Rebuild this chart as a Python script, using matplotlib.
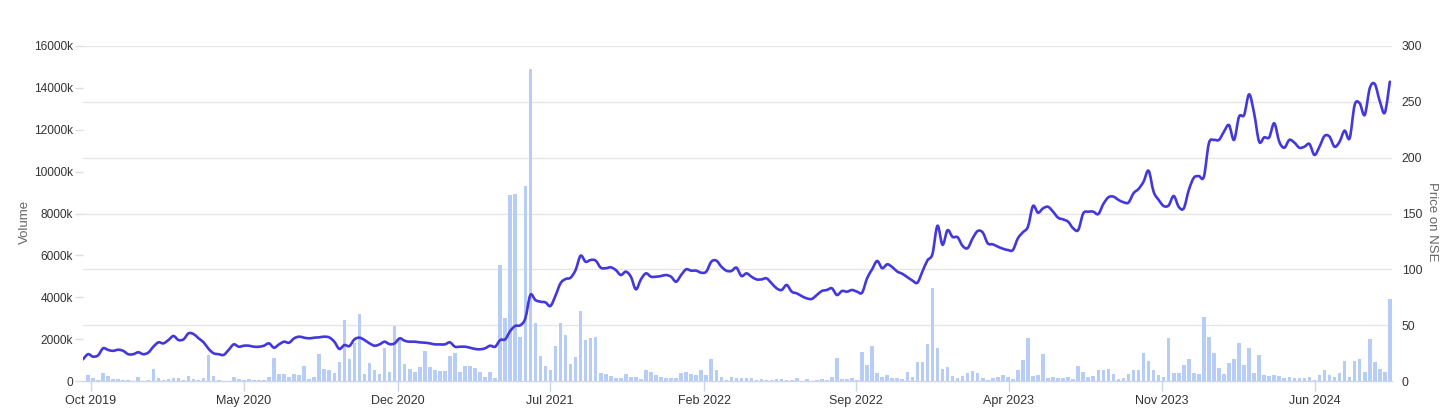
import matplotlib
matplotlib.use("Agg")
import matplotlib.pyplot as plt
from matplotlib.path import Path
from matplotlib.patches import PathPatch
from matplotlib.ticker import FuncFormatter, MultipleLocator
import matplotlib.dates as mdates
import numpy as np
import pandas as pd

# ---------------- data ----------------
volume_start = "2019-09-27"   # weekly bars
volume_k = [
    290, 160, 50, 370, 240, 100, 100, 50, 50, 20,
    190, 10, 50, 570, 160, 60, 100, 130, 130, 50,
    240, 80, 60, 140, 1220, 240, 30, 5, 5, 190,
    100, 50, 110, 50, 50, 60, 190, 1080, 320, 320,
    190, 350, 290, 730, 80, 210, 1300, 570, 510, 380,
    910, 2900, 1050, 1800, 3200, 350, 860, 510, 320, 1580,
    450, 2650, 2000, 800, 570, 430, 690, 1450, 690, 510,
    480, 480, 1180, 1340, 450, 730, 730, 620, 410, 190,
    410, 130, 5550,
    3020, 8870, 8950, 2090, 9300, 14920, 2790, 1190, 730, 520,
    1670, 2780, 2210, 810, 1130, 3340, 1960, 2030, 2090, 400,
    320, 220, 160, 140, 330, 190, 190, 110, 520, 410,
    270, 190, 160, 160, 160, 370, 430, 330, 270, 510,
    300, 1050, 510, 210, 50, 170, 140, 140, 140, 130,
    60, 100, 50, 50, 80, 80, 50, 50, 160, 10,
    80, 10, 50, 80, 50, 170, 1080, 100, 100, 140,
    50, 1370, 760, 1680, 400, 190, 290, 140, 140, 100,
    450, 190, 890, 890, 1780, 4450, 1560, 570, 670, 240,
    160, 240, 370, 480, 370,
    160, 50, 130, 210, 290, 190, 100, 510, 1000, 2040,
    240, 290, 1270, 130, 170, 140, 140, 190, 110, 730,
    450, 170, 250, 510, 510, 560, 350, 100, 140, 320,
    520, 520, 1340, 950, 520, 290, 190, 2040, 370, 370,
    750, 1070, 370, 330, 3070, 2090, 1350, 600, 330, 840,
    1050, 1800, 760, 1560, 380, 1240, 290, 220, 300, 240,
    140, 210, 140, 160, 160, 210, 60, 290, 510, 290,
    190, 400, 970, 190, 950, 1040, 430, 2000, 890, 560,
    430, 3900,
]

price_start = "2019-09-20"    # weekly closing price (NSE)
price = [
    19.4, 24, 21.8, 23, 29.3, 27.8, 27, 28, 27, 24,
    24, 25.7, 24, 25.5, 30.7, 34.6, 33.7, 36.7, 40.3, 36.7,
    37.3, 42.7, 42, 38.2, 34.6, 28.7, 24.8, 24, 23.4, 28,
    32.8, 30.7, 31.6, 31.6, 30.7, 30.7, 31.6, 33.7, 29.8, 32.8,
    35.2, 34.3, 38.2, 39.7, 38.8, 38.2, 38.8, 39.1, 39.7, 39,
    35.2, 28.7, 32.2, 31.3, 37.3, 38.8, 36.7, 33.7, 31.6, 32.8,
    35.2, 33, 33.7, 38.2, 36, 35.2, 35.2, 34.6, 34.3, 33.7,
    32.8, 32.8, 32.8, 34.6, 30.7, 30.7, 30.7, 29.8, 28.7, 28.4,
    29.3, 31.6, 30.7, 36.7,
    37.3, 44.8, 49.3, 49.9, 56.1, 77, 72.5, 71, 70.4, 67.2,
    76.4, 87.5, 91.3, 92.5, 99.4, 112.2, 106.8, 108.4, 107.8, 101.5,
    101, 101.8, 99.4, 94.9, 97.9, 93.4, 82.1, 91, 96.4, 93.4,
    93.4, 94, 94.9, 93.4, 88.9, 94.9, 100, 98.8, 98.8, 97,
    97.9, 106.8, 107.8, 102.4, 98.8, 98.5, 101.5, 94, 96.4, 93.4,
    91, 91, 91.9, 87.5, 83, 81.5, 86, 80, 78.5, 76,
    74, 73.5, 77, 80.6, 81.5, 83, 77, 80.6, 80, 81.5,
    80, 79.1, 92, 100, 107.5, 101, 104.5, 102, 98, 96,
    93, 90, 88, 98, 108, 113.7, 139, 122, 135, 129,
    128.7, 121, 119, 127.8, 134.3, 133, 123.3, 122.4, 120.3, 118.5,
    117.3, 117.3, 127.8, 133.2, 138.2, 156.7, 150.7, 154.6, 156, 151.6,
    146.2, 144.7, 142.6, 136.7, 135.2, 150.1, 151.6, 151.6, 149.5, 158.5,
    164.5, 165.1, 162.2, 160.1, 159.8, 168.1, 172, 178.5, 188.3, 169.5,
    162.2, 156.7, 157.3, 165.7, 156, 154.6, 171, 182, 183.5, 182.9,
    212.9, 215.9, 215.9, 223.3, 229.2, 215.9, 236.7, 238.2, 256.7, 239.7,
    214.3, 218.2, 218.2, 230.8, 214.3, 208.9, 215.9, 213.5, 208.9, 209.8,
    212.3, 202.4, 209.8, 219.4, 218.8, 209.8, 214.3, 224.2, 217.3, 247.2,
    248.7, 238.2, 262.1, 266, 250.6, 240.3, 268,
]

x_tick_labels = ["Oct 2019", "May 2020", "Dec 2020", "Jul 2021", "Feb 2022",
                 "Sep 2022", "Apr 2023", "Nov 2023", "Jun 2024"]

volume_axis_max_k = 16000
price_axis_max = 300

# ---------------- styling ----------------
BAR_COLOR = "#b7cdf6"
LINE_COLOR = "#4338dc"
GRID_COLOR = "#e6e6e6"
TEXT_COLOR = "#333333"
LABEL_COLOR = "#666666"

plt.rcParams["font.family"] = ["Liberation Sans", "DejaVu Sans"]

vol_dates = pd.date_range(volume_start, periods=len(volume_k), freq="7D")
price_dates = pd.date_range(price_start, periods=len(price), freq="7D")
volume = [v * 1000 for v in volume_k]

fig = plt.figure(figsize=(14.56, 4.12), dpi=100)
ax = fig.add_axes([83 / 1456, 1 - 381 / 412, (1392 - 83) / 1456, (381 - 46) / 412])
ax2 = ax.twinx()

ax.bar(vol_dates, volume, width=5.0, color=BAR_COLOR, zorder=2, linewidth=0)
ax.set_ylim(0, volume_axis_max_k * 1000)
ax.yaxis.set_major_locator(MultipleLocator(2000 * 1000))
ax.yaxis.set_major_formatter(FuncFormatter(lambda v, p: "0" if v == 0 else f"{int(v / 1000)}k"))


def spline_path(xs, ys):
    """Smooth (Catmull-Rom style) Bezier path through the data points."""
    xs = np.asarray(xs, float)
    ys = np.asarray(ys, float)
    n = len(xs)
    verts = [(xs[0], ys[0])]
    codes = [Path.MOVETO]
    for i in range(n - 1):
        x0, y0 = (xs[i - 1], ys[i - 1]) if i > 0 else (xs[i], ys[i])
        x1, y1 = xs[i], ys[i]
        x2, y2 = xs[i + 1], ys[i + 1]
        x3, y3 = (xs[i + 2], ys[i + 2]) if i + 2 < n else (x2, y2)
        c1 = (x1 + (x2 - x0) / 6.0, y1 + (y2 - y0) / 6.0)
        c2 = (x2 - (x3 - x1) / 6.0, y2 - (y3 - y1) / 6.0)
        verts += [c1, c2, (x2, y2)]
        codes += [Path.CURVE4, Path.CURVE4, Path.CURVE4]
    return Path(verts, codes)


px = mdates.date2num(price_dates)
ax2.add_patch(PathPatch(spline_path(px, price), facecolor="none", edgecolor=LINE_COLOR,
                        linewidth=1.9, joinstyle="round", capstyle="round", zorder=3))
ax2.set_ylim(0, price_axis_max)
ax2.yaxis.set_major_locator(MultipleLocator(50))

# gridlines follow the price axis ticks, drawn behind bars
scale = volume_axis_max_k * 1000 / price_axis_max
for t in ax2.get_yticks():
    if 0 < t <= price_axis_max:
        ax.axhline(t * scale, color=GRID_COLOR, linewidth=1.0, zorder=0)

ax.set_xlim(pd.Timestamp("2019-09-20"), pd.Timestamp("2024-09-16"))
xt = [pd.to_datetime(s, format="%b %Y") for s in x_tick_labels]
ax.set_xticks(xt)
ax.set_xticklabels(x_tick_labels)

for a in (ax, ax2):
    for s in a.spines.values():
        s.set_visible(False)
ax.spines["bottom"].set_visible(True)
ax.spines["bottom"].set_color("#ccd6eb")
ax.spines["bottom"].set_linewidth(1.0)

ax.tick_params(axis="x", colors="#ccd6eb", length=7, width=1, labelcolor=TEXT_COLOR,
               labelsize=9, pad=3)
ax.tick_params(axis="y", colors="#dddddd", length=6, width=1, labelcolor=TEXT_COLOR,
               labelsize=8.6, pad=1)
ax2.tick_params(axis="y", length=0, labelcolor=TEXT_COLOR, labelsize=8.7, pad=7)

ax.set_ylabel("Volume", color=LABEL_COLOR, fontsize=9.5, va="center", ha="center")
ax.yaxis.set_label_coords((25 - 83) / 1309, (381 - 222) / 335)
ax2.set_ylabel("Price on NSE", color=LABEL_COLOR, fontsize=9.5, rotation=-90,
               va="center", ha="center")
ax2.yaxis.set_label_coords((1432 - 83) / 1309, (381 - 222) / 335)

fig.savefig("out.png", dpi=100, facecolor="white")
